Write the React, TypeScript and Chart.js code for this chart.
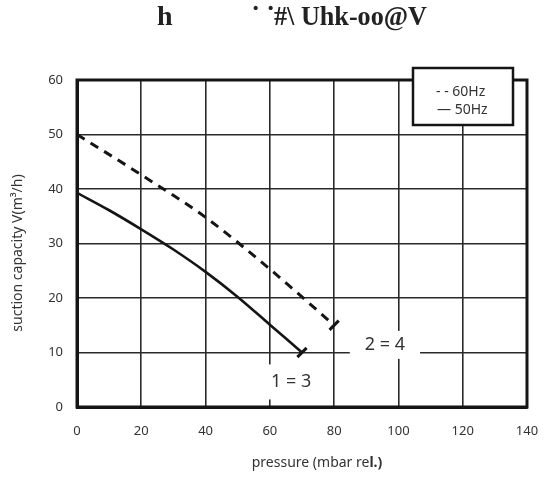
import React, { useEffect, useRef } from "react";
import { Chart, registerables } from "chart.js";

Chart.register(...registerables);

const pressure60 = [0, 20, 40, 60, 80];
const capacity60 = [50, 42.6, 34.8, 25.3, 15];
const pressure50 = [0, 10, 20, 30, 40, 50, 60, 70];
const capacity50 = [39.3, 36.1, 32.6, 28.9, 24.8, 20.2, 15.1, 10];
const seriesNames = ["60Hz", "50Hz"];
const legendLabels = ["- - 60Hz", "— 50Hz"];
const annotations = [
  { text: "1 = 3", x: 66.6, y: 4.6 },
  { text: "2 = 4", x: 95.8, y: 11.4 },
];
const xTitle = ["pressure (mbar re", "l.)"];
const yTitle = "suction capacity V(m³/h)";
const titleParts = ["h", "˙", "˙", "#\\ Uhk-oo@V"];

const FONT = "'Noto Sans', 'DejaVu Sans', sans-serif";
const INK = "#151515";
const TEXT = "#333333";

const extras = {
  id: "extras",
  beforeDatasetsDraw(chart: any) {
    const { ctx } = chart;
    const xs = chart.scales.x;
    const ys = chart.scales.y;
    ctx.save();
    ctx.font = `18px ${FONT}`;
    ctx.textAlign = "center";
    ctx.textBaseline = "middle";
    annotations.forEach((a, i) => {
      const px = xs.getPixelForValue(a.x);
      const py = ys.getPixelForValue(a.y);
      const w = ctx.measureText(a.text).width + (i === 0 ? 18 : 30);
      const h = i === 0 ? 35 : 28;
      ctx.fillStyle = "#ffffff";
      ctx.fillRect(px - w / 2, py - h / 2, w, h);
      ctx.fillStyle = TEXT;
      ctx.fillText(a.text, px, py);
    });
    ctx.restore();
  },
  afterDraw(chart: any) {
    const { ctx, chartArea } = chart;
    ctx.save();
    // frame
    ctx.strokeStyle = INK;
    ctx.lineWidth = 3;
    ctx.strokeRect(chartArea.left, chartArea.top, chartArea.right - chartArea.left, chartArea.bottom - chartArea.top);
    // legend box
    ctx.fillStyle = "#ffffff";
    ctx.fillRect(413, 68, 100, 57);
    ctx.lineWidth = 2.5;
    ctx.strokeRect(413, 68, 100, 57);
    ctx.fillStyle = TEXT;
    ctx.font = `14px ${FONT}`;
    ctx.textAlign = "left";
    ctx.textBaseline = "middle";
    ctx.fillText(legendLabels[0], 436, 92);
    ctx.fillText(legendLabels[1], 437, 110);
    // axis titles
    ctx.font = `14px ${FONT}`;
    ctx.textAlign = "center";
    ctx.save();
    ctx.translate(18, 253);
    ctx.rotate(-Math.PI / 2);
    ctx.fillText(yTitle, 0, 0);
    ctx.restore();
    ctx.font = `14px ${FONT}`;
    const w1 = ctx.measureText(xTitle[0]).width;
    ctx.font = `bold 14px ${FONT}`;
    const w2 = ctx.measureText(xTitle[1]).width;
    const start = 317 - (w1 + w2) / 2;
    ctx.textAlign = "left";
    ctx.font = `14px ${FONT}`;
    ctx.fillText(xTitle[0], start, 463);
    ctx.font = `bold 14px ${FONT}`;
    ctx.fillText(xTitle[1], start + w1, 463);
    // title
    ctx.fillStyle = "#222222";
    ctx.font = `bold 28px 'Liberation Serif', 'DejaVu Serif', serif`;
    ctx.textBaseline = "alphabetic";
    ctx.fillText(titleParts[0], 157, 25);
    ctx.fillText(titleParts[1], 251, 25);
    ctx.fillText(titleParts[2], 266, 25);
    const tw = ctx.measureText(titleParts[3]).width;
    ctx.save();
    ctx.translate(274, 25);
    ctx.scale(153 / tw, 1);
    ctx.fillText(titleParts[3], 0, 0);
    ctx.restore();
    ctx.restore();
  },
};

export default function App() {
  const ref = useRef<HTMLCanvasElement | null>(null);
  useEffect(() => {
    if (!ref.current) return;
    const endRadius = (n: number) => Array.from({ length: n }, (_, i) => (i === n - 1 ? 6.5 : 0));
    const chart = new Chart(ref.current, {
      type: "line",
      data: {
        datasets: [
          {
            label: seriesNames[0],
            data: pressure60.map((p, i) => ({ x: p, y: capacity60[i] })),
            borderColor: INK,
            backgroundColor: INK,
            borderWidth: 3,
            borderDash: [9, 7],
            cubicInterpolationMode: "monotone",
            pointStyle: "line",
            pointRadius: endRadius(pressure60.length),
            pointBorderWidth: 3,
            pointRotation: -45,
            pointBorderColor: INK,
          },
          {
            label: seriesNames[1],
            data: pressure50.map((p, i) => ({ x: p, y: capacity50[i] })),
            borderColor: INK,
            backgroundColor: INK,
            borderWidth: 2.6,
            cubicInterpolationMode: "monotone",
            pointStyle: "line",
            pointRadius: endRadius(pressure50.length),
            pointBorderWidth: 3,
            pointRotation: -45,
            pointBorderColor: INK,
          },
        ],
      },
      options: {
        responsive: false,
        animation: false,
        layout: { padding: { top: 80, right: 20, left: 0, bottom: 0 } },
        plugins: {
          legend: { display: false },
          title: { display: false },
          tooltip: { enabled: false },
        },
        scales: {
          x: {
            type: "linear",
            min: 0,
            max: 140,
            afterFit: (s: any) => {
              s.height = 79;
              s.paddingLeft = 0;
              s.paddingRight = 0;
            },
            ticks: { stepSize: 20, padding: 16, color: TEXT, font: { family: FONT, size: 13 } },
            grid: { color: "#2a2a2a", lineWidth: 1.6, drawTicks: false },
            border: { display: true, color: INK, width: 3 },
          },
          y: {
            type: "linear",
            min: 0,
            max: 60,
            afterFit: (s: any) => {
              s.width = 77;
              s.paddingTop = 0;
              s.paddingBottom = 0;
            },
            ticks: { stepSize: 10, padding: 14, color: TEXT, font: { family: FONT, size: 13 } },
            grid: { color: "#2a2a2a", lineWidth: 1.6, drawTicks: false },
            border: { display: true, color: INK, width: 3 },
          },
        },
      },
      plugins: [extras],
    } as any);
    return () => chart.destroy();
  }, []);
  return (
    <div style={{ position: "absolute", left: 0, top: 0, width: 547, height: 486, background: "#fff" }}>
      <canvas ref={ref} width={547} height={486} style={{ display: "block" }} />
    </div>
  );
}
